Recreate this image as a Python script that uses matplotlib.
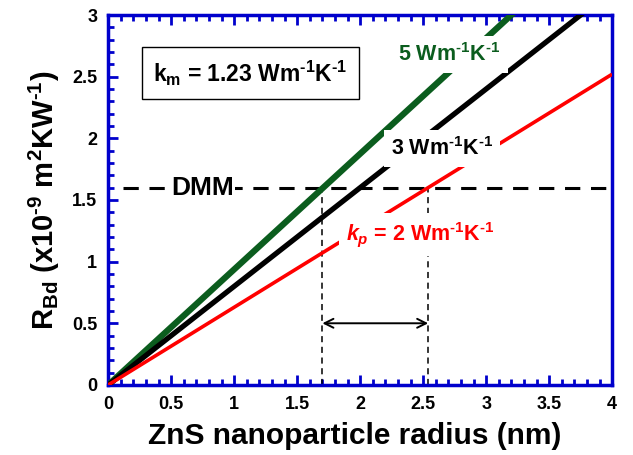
import matplotlib
matplotlib.use("Agg")
import matplotlib.pyplot as plt
from matplotlib.ticker import MultipleLocator, FormatStrFormatter

plt.rcParams['font.family'] = ['Liberation Sans', 'DejaVu Sans']
plt.rcParams['font.weight'] = 'bold'
plt.rcParams['axes.labelweight'] = 'bold'
plt.rcParams['mathtext.fontset'] = 'custom'
plt.rcParams['mathtext.rm'] = 'Liberation Sans:bold'
plt.rcParams['mathtext.bf'] = 'Liberation Sans:bold'
plt.rcParams['mathtext.it'] = 'Liberation Sans:italic:bold'
plt.rcParams['mathtext.default'] = 'rm'

# data
radius = [0, 4]
r_kp5 = [0, 3.75]
r_kp3 = [0, 3.2]
r_kp2 = [0, 2.52]
r_dmm = 1.6
r_cross = [1.7, 2.54]

blue = '#0000cc'
green = '#0b5d1e'
unit = ' Wm$^{\\text{-1}}$K$^{\\text{-1}}$'

fig = plt.figure(figsize=(6.33, 4.55), dpi=100)
ax = fig.add_axes([0.171, 0.154, 0.796, 0.813])

ax.plot(radius, r_kp5, color=green, lw=4.5, solid_capstyle='butt', zorder=3)
ax.plot(radius, r_kp3, color='black', lw=3.8, solid_capstyle='butt', zorder=3)
ax.plot(radius, r_kp2, color='red', lw=2.6, solid_capstyle='butt', zorder=3)

ax.plot([0.12, 3.97], [r_dmm, r_dmm], color='black', lw=2.2,
        dashes=(5, 3.5), zorder=2)
for xc in r_cross:
    ax.plot([xc, xc], [0, r_dmm], color='black', lw=1.1, dashes=(4, 3), zorder=2)
ax.annotate('', xy=(r_cross[0], 0.5), xytext=(r_cross[1], 0.5),
            arrowprops=dict(arrowstyle='<->', color='black', lw=1.4,
                            mutation_scale=16, shrinkA=0, shrinkB=0), zorder=4)

ax.text(0.75, r_dmm, 'DMM', fontsize=19, ha='center', va='center',
        bbox=dict(facecolor='white', edgecolor='none', pad=1), zorder=5)
ax.text(2.71, 2.68, '5' + unit, fontsize=15.5, color=green,
        ha='center', va='center', bbox=dict(facecolor='white', edgecolor='none', pad=5), zorder=5)
ax.text(2.65, 1.92, '3' + unit, fontsize=15.5, color='black',
        ha='center', va='center', bbox=dict(facecolor='white', edgecolor='none', pad=5), zorder=5)
ax.text(2.48, 1.22, '$\\mathit{k_p}$ = 2' + unit, fontsize=15.5, color='red',
        ha='center', va='center', bbox=dict(facecolor='white', edgecolor='none', pad=5), zorder=5)
ax.text(1.13, 2.53, '$k_m$ = 1.23' + unit, fontsize=16.5, color='black',
        ha='center', va='center',
        bbox=dict(facecolor='white', edgecolor='black', lw=1, pad=8), zorder=5)

ax.set_xlim(0, 4)
ax.set_ylim(0, 3)
ax.xaxis.set_major_locator(MultipleLocator(0.5))
ax.xaxis.set_minor_locator(MultipleLocator(0.1))
ax.yaxis.set_major_locator(MultipleLocator(0.5))
ax.yaxis.set_minor_locator(MultipleLocator(0.1))
ax.xaxis.set_major_formatter(FormatStrFormatter('%g'))
ax.yaxis.set_major_formatter(FormatStrFormatter('%g'))
ax.tick_params(which='both', direction='in', color=blue, width=2,
               top=True, right=False, labelsize=13, pad=8)
ax.tick_params(which='major', length=7)
ax.tick_params(which='minor', length=4)
for s in ax.spines.values():
    s.set_color(blue)
    s.set_linewidth(2.5)

ax.set_xlabel('ZnS nanoparticle radius (nm)', fontsize=21.5, labelpad=8)
ax.xaxis.set_label_coords(0.49, -0.1, transform=ax.transAxes)
ax.xaxis.label.set_va('top')
ax.set_ylabel('R$_{\\text{Bd}}$ (x10$^{\\text{-9}}$ m$^{2}$KW$^{\\text{-1}}$)', fontsize=21, labelpad=7)

fig.savefig('out.png', dpi=100)
